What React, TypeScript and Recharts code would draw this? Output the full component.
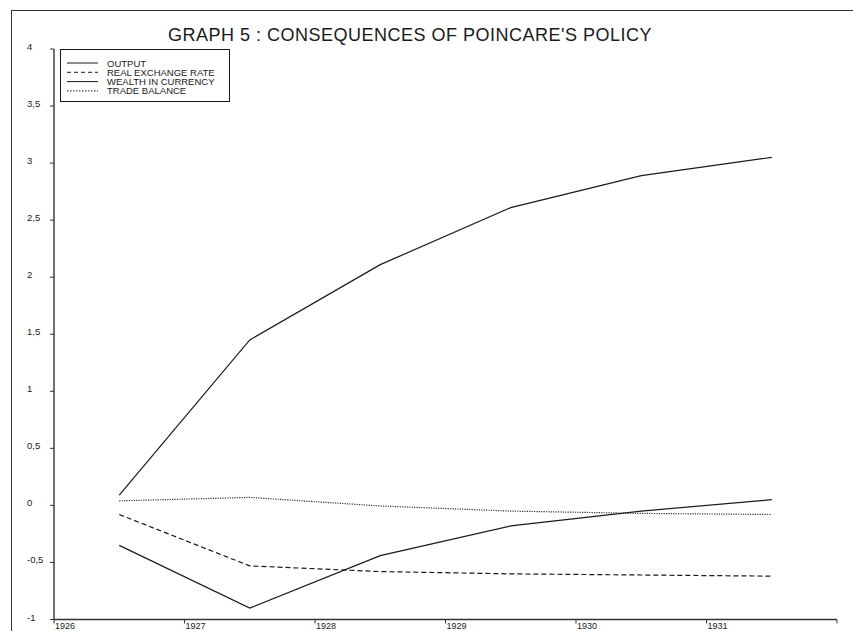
import { Legend, Line, LineChart, XAxis, YAxis } from "recharts";

const years = [1926.5, 1927.5, 1928.5, 1929.5, 1930.5, 1931.5];
const output = [0.09, 1.45, 2.11, 2.61, 2.89, 3.05];
const realExchangeRate = [-0.08, -0.53, -0.58, -0.6, -0.61, -0.62];
const wealthInCurrency = [-0.35, -0.9, -0.44, -0.18, -0.05, 0.05];
const tradeBalance = [0.04, 0.07, -0.005, -0.05, -0.07, -0.08];

const xTicks = [1926, 1927, 1928, 1929, 1930, 1931, 1932];
const xTickLabels = ["1926", "1927", "1928", "1929", "1930", "1931", ""];
const yTicks = [-1, -0.5, 0, 0.5, 1, 1.5, 2, 2.5, 3, 3.5, 4];

const data = years.map((year, i) => ({
  year,
  output: output[i],
  rate: realExchangeRate[i],
  wealth: wealthInCurrency[i],
  trade: tradeBalance[i],
}));

const legendItems = [
  { name: "OUTPUT", dash: undefined },
  { name: "REAL EXCHANGE RATE", dash: "4 3" },
  { name: "WEALTH IN CURRENCY", dash: undefined },
  { name: "TRADE BALANCE", dash: "1.5 1.5" },
];

const font = "'Liberation Sans', Arial, sans-serif";
const ink = "#1a1a1a";

function LegendBox() {
  return (
    <div
      style={{
        width: 170,
        height: 53,
        border: `1px solid ${ink}`,
        boxSizing: "border-box",
        background: "#fff",
        fontFamily: font,
        fontSize: 9.5,
        color: ink,
      }}
    >
      <svg width={168} height={51}>
        {legendItems.map((item, i) => (
          <g key={item.name}>
            <line
              x1={6}
              x2={37}
              y1={13 + i * 9.3}
              y2={13 + i * 9.3}
              stroke={ink}
              strokeWidth={1}
              strokeDasharray={item.dash}
            />
            <text x={46} y={16.5 + i * 9.3} fill={ink} fontSize={9.5} fontFamily={font}>
              {item.name}
            </text>
          </g>
        ))}
      </svg>
    </div>
  );
}

function YTick(props: any) {
  const { y, payload } = props;
  return (
    <text x={27} y={y + 1} fontSize={9.5} fontFamily={font} fill={ink}>
      {String(payload.value).replace(".", ",")}
    </text>
  );
}

function XTick(props: any) {
  const { x, y, payload } = props;
  const label = xTickLabels[xTicks.indexOf(payload.value)];
  return (
    <text x={x + 1} y={y + 3} fontSize={9} fontFamily={font} fill={ink}>
      {label}
    </text>
  );
}

export default function App() {
  return (
    <div
      style={{
        position: "absolute",
        left: 0,
        top: 0,
        width: 853,
        height: 631,
        overflow: "hidden",
        background: "#fff",
      }}
    >
      <div
        style={{
          position: "absolute",
          left: 11,
          top: 10,
          width: 900,
          height: 700,
          border: "1.5px solid #333",
        }}
      />
      <div
        style={{
          position: "absolute",
          left: 0,
          width: 820,
          top: 26,
          textAlign: "center",
          fontFamily: font,
          fontSize: 18,
          letterSpacing: 0.5,
          lineHeight: "18px",
          color: ink,
        }}
      >
        GRAPH 5 : CONSEQUENCES OF POINCARE'S POLICY
      </div>
      <div style={{ position: "absolute", left: 0, top: 0 }}>
        <LineChart
          width={853}
          height={631}
          data={data}
          margin={{ top: 49, right: 16, bottom: 0, left: 4 }}
        >
          <XAxis
            dataKey="year"
            type="number"
            domain={[1926, 1932]}
            ticks={xTicks}
            interval={0}
            height={11.5}
            tickSize={4}
            tick={<XTick />}
            axisLine={{ stroke: "#333", strokeWidth: 1.4 }}
            tickLine={{ stroke: "#333" }}
          />
          <YAxis
            type="number"
            domain={[-1, 4]}
            ticks={yTicks}
            interval={0}
            width={50}
            tickSize={4}
            tick={<YTick />}
            axisLine={{ stroke: "#333", strokeWidth: 1.4 }}
            tickLine={{ stroke: "#333" }}
          />
          <Legend
            layout="vertical"
            align="center"
            verticalAlign="middle"
            wrapperStyle={{ left: 60, top: 49, width: 170, height: 53 }}
            content={() => <LegendBox />}
          />
          <Line
            dataKey="output"
            stroke={ink}
            strokeWidth={1.2}
            dot={false}
            isAnimationActive={false}
          />
          <Line
            dataKey="rate"
            stroke={ink}
            strokeWidth={1.2}
            strokeDasharray="5 3"
            dot={false}
            isAnimationActive={false}
          />
          <Line
            dataKey="wealth"
            stroke={ink}
            strokeWidth={1.2}
            dot={false}
            isAnimationActive={false}
          />
          <Line
            dataKey="trade"
            stroke="#333"
            strokeWidth={1.2}
            strokeDasharray="1.2 1.2"
            dot={false}
            isAnimationActive={false}
          />
        </LineChart>
      </div>
    </div>
  );
}
